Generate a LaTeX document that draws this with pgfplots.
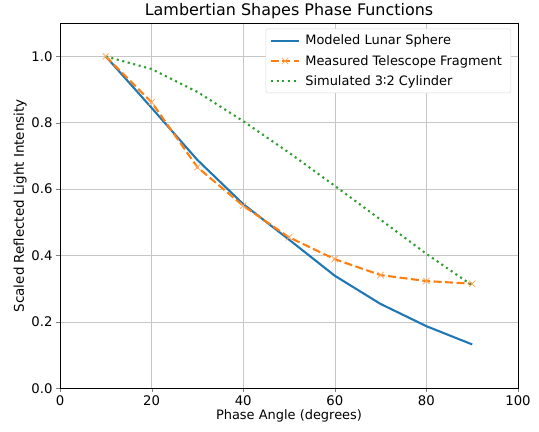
\documentclass[border=0pt]{standalone}
\usepackage{pgfplots}
\pgfplotsset{compat=1.18}
\usepackage{fontspec}
\setmainfont{DejaVu Sans}
\definecolor{mblue}{HTML}{1F77B4}
\definecolor{morange}{HTML}{FF7F0E}
\definecolor{mgreen}{HTML}{2CA02C}
\begin{document}
\begin{tikzpicture}
\begin{axis}[
    scale only axis,
    width=458bp, height=365bp,
    xmin=0, xmax=100, ymin=0, ymax=1.1,
    xtick={0,20,...,100},
    ytick={0,0.2,...,1.0},
    yticklabel style={/pgf/number format/.cd,fixed,fixed zerofill,precision=1},
    /pgf/number format/assume math mode=true,
    tick align=outside,
    tick pos=left,
    major tick length=4bp,
    grid=major,
    grid style={gray!45, line width=0.6pt},
    axis line style={line width=0.6pt},
    ticklabel style={font=\fontsize{13.3}{15}\selectfont},
    xlabel={Phase Angle (degrees)},
    ylabel={Scaled Reflected Light Intensity},
    label style={font=\fontsize{13}{15}\selectfont},
    ylabel style={font=\fontsize{13.5}{15}\selectfont},
    xlabel style={yshift=3bp},
    ylabel style={yshift=-2bp},
    title={Lambertian Shapes Phase Functions},
    title style={font=\fontsize{16}{18}\selectfont, yshift=-5bp},
    legend pos=north east,
    legend cell align=left,
    legend style={font=\fontsize{13}{15}\selectfont, draw=gray!30, rounded corners=2pt, inner xsep=4bp, inner ysep=4bp, row sep=5bp, at={(0.985,0.985)},
      nodes={inner xsep=5bp}},
    legend image code/.code={\draw[mark repeat=2,mark phase=2,#1] plot coordinates {(0cm,0cm) (0.5cm,0cm) (1cm,0cm)};},
]
\addplot[mblue, line width=2.1pt] coordinates {
(10,1.0) (20,0.845) (30,0.688) (40,0.555) (50,0.448) (60,0.339) (70,0.254) (80,0.187) (90,0.132)
};
\addlegendentry{Modeled Lunar Sphere}
\addplot[morange, line width=2.1pt, dash pattern=on 8pt off 3.5pt, mark=x, mark size=4.5pt, mark options={solid, line width=0.7pt, draw=morange!70}] coordinates {
(10,1.0) (20,0.862) (30,0.666) (40,0.550) (50,0.455) (60,0.389) (70,0.341) (80,0.323) (90,0.315)
};
\addlegendentry{Measured Telescope Fragment}
\addplot[mgreen, line width=2.1pt, dash pattern=on 2.1pt off 3.6pt] coordinates {
(10,1.0) (20,0.962) (30,0.893) (40,0.805) (50,0.710) (60,0.610) (70,0.508) (80,0.405) (90,0.310)
};
\addlegendentry{Simulated 3∶2 Cylinder}
\end{axis}
\path ([xshift=-60bp,yshift=-43bp]current axis.south west) rectangle ([xshift=21bp,yshift=21bp]current axis.north east);
\end{tikzpicture}
\end{document}
